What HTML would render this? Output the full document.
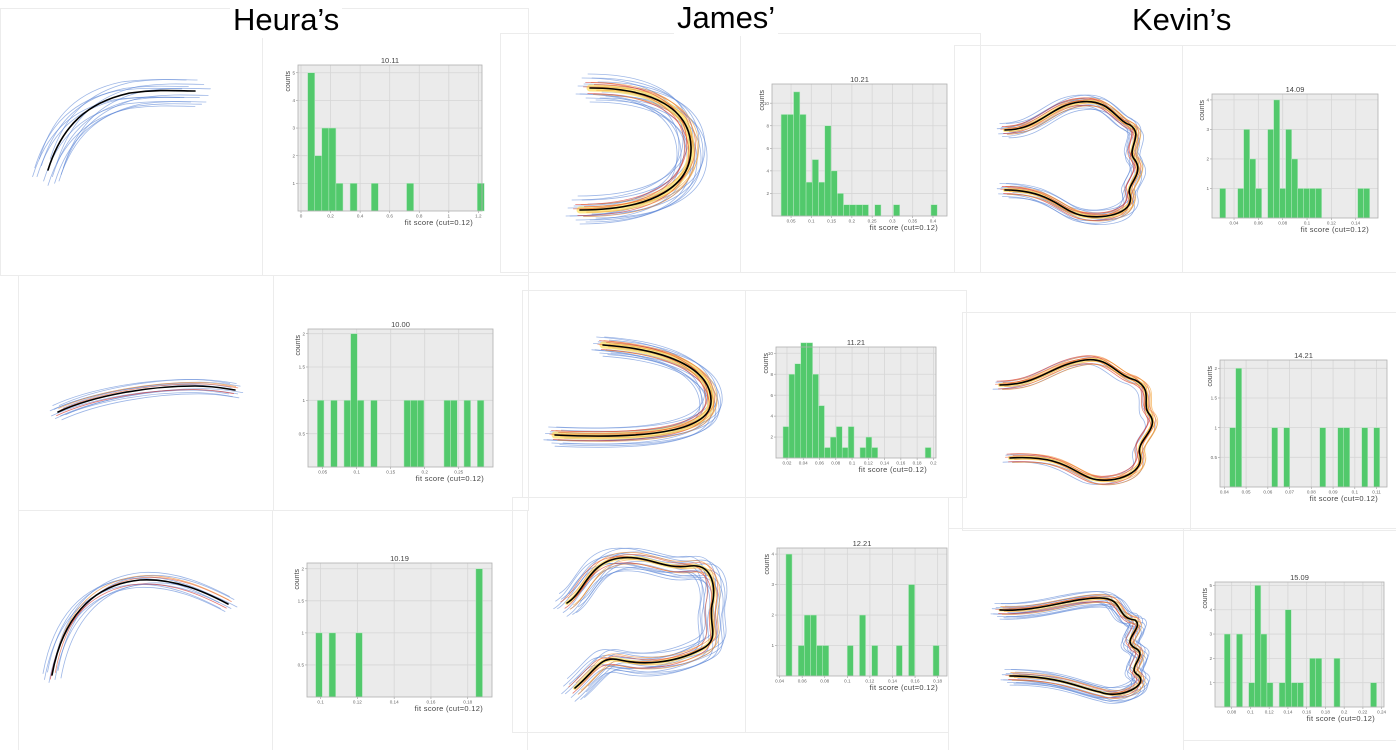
<!DOCTYPE html>
<html><head><meta charset="utf-8">
<style>
html,body{margin:0;padding:0;background:#fff;}
body{width:1396px;height:750px;overflow:hidden;position:relative;font-family:"Liberation Sans",sans-serif;}
.hdr{position:absolute;font-size:31px;color:#000;top:2px;z-index:2;background:#fff;padding:0 3px;line-height:36px;}
svg{position:absolute;left:0;top:0;z-index:1;}
</style></head>
<body>
<div class="hdr" style="left:230px">Heura’s</div>
<div class="hdr" style="left:674px;top:0px">James’</div>
<div class="hdr" style="left:1129px">Kevin’s</div>
<svg id="s" width="1396" height="750"></svg>
<script>
// ---- histogram data ----
const h1Counts=[5,2,3,3,1,0,1,0,0,1,0,0,0,0,1,0,0,0,0,0,0,0,0,0,1];
const h1XTicks=[0,0.2,0.4,0.6,0.8,1,1.2];
const h1XLabels=["0","0.2","0.4","0.6","0.8","1","1.2"];
const h1YTicks=[1,2,3,4,5];
const j1Counts=[9,9,11,9,3,5,3,8,4,2,1,1,1,1,0,1,0,0,1,0,0,0,0,0,1];
const j1XTicks=[0.05,0.1,0.15,0.2,0.25,0.3,0.35,0.4];
const j1XLabels=["0.05","0.1","0.15","0.2","0.25","0.3","0.35","0.4"];
const j1YTicks=[2,4,6,8,10];
const k1Counts=[1,0,0,1,3,2,1,0,3,4,1,3,2,1,1,1,1,0,0,0,0,0,0,1,1];
const k1XTicks=[0.04,0.06,0.08,0.1,0.12,0.14];
const k1XLabels=["0.04","0.06","0.08","0.1","0.12","0.14"];
const k1YTicks=[1,2,3,4];
const h2Counts=[1,0,1,0,1,2,1,0,1,0,0,0,0,1,1,1,0,0,0,1,1,0,1,0,1];
const h2XTicks=[0.05,0.1,0.15,0.2,0.25];
const h2XLabels=["0.05","0.1","0.15","0.2","0.25"];
const h2YTicks=[0.5,1,1.5,2];
const j2Counts=[3,8,9,11,11,8,5,1,2,3,1,3,0,1,2,1,0,0,0,0,0,0,0,0,1];
const j2XTicks=[0.02,0.04,0.06,0.08,0.1,0.12,0.14,0.16,0.18,0.2];
const j2XLabels=["0.02","0.04","0.06","0.08","0.1","0.12","0.14","0.16","0.18","0.2"];
const j2YTicks=[2,4,6,8,10];
const k2Counts=[1,2,0,0,0,0,0,1,0,1,0,0,0,0,0,1,0,0,1,1,0,0,1,0,1];
const k2XTicks=[0.04,0.05,0.06,0.07,0.08,0.09,0.1,0.11];
const k2XLabels=["0.04","0.05","0.06","0.07","0.08","0.09","0.1","0.11"];
const k2YTicks=[0.5,1,1.5,2];
const h3Counts=[1,0,1,0,0,0,1,0,0,0,0,0,0,0,0,0,0,0,0,0,0,0,0,0,2];
const h3XTicks=[0.1,0.12,0.14,0.16,0.18];
const h3XLabels=["0.1","0.12","0.14","0.16","0.18"];
const h3YTicks=[0.5,1,1.5,2];
const j3Counts=[4,0,1,2,2,1,1,0,0,0,1,0,2,0,1,0,0,0,1,0,3,0,0,0,1];
const j3XTicks=[0.04,0.06,0.08,0.1,0.12,0.14,0.16,0.18];
const j3XLabels=["0.04","0.06","0.08","0.1","0.12","0.14","0.16","0.18"];
const j3YTicks=[1,2,3,4];
const k3Counts=[3,0,3,0,1,5,3,1,0,1,4,1,1,0,2,2,0,0,2,0,0,0,0,0,1];
const k3XTicks=[0.08,0.1,0.12,0.14,0.16,0.18,0.2,0.22,0.24];
const k3XLabels=["0.08","0.1","0.12","0.14","0.16","0.18","0.2","0.22","0.24"];
const k3YTicks=[1,2,3,4,5];

const NS="http://www.w3.org/2000/svg";
const svg=document.getElementById('s');
function mk(tag,attrs,parent){const e=document.createElementNS(NS,tag);for(const k in attrs)e.setAttribute(k,attrs[k]);(parent||svg).appendChild(e);return e;}

const frames=[[0,8,262,267],[262,8,266,267],[500,33,240,239],[740,33,240,239],[954,45,228,227],[1182,45,214,227],
[18,275,255,235],[273,275,255,235],[522,290,223,207],[745,290,221,207],[962,312,228,218],[1190,312,206,218],
[18,510,254,240],[272,510,255,240],[512,497,233,235],[745,497,203,235],[948,528,235,222],[1183,528,213,212]];
frames.forEach(f=>{const r=mk('rect',{x:f[0]+0.5,y:f[1]+0.5,width:f[2],height:f[3],fill:'none',stroke:'#ececec'});

});

function hist(name,title,box,xmin,xmax,ymax,binStart,binW,counts,xt,xl,yt){
  const g=mk('g',{});
  
  
  const [x0,y0,x1,y1]=box;
  const xs=v=>x0+(v-xmin)/(xmax-xmin)*(x1-x0);
  const ys=c=>y1-c/ymax*(y1-y0);
  mk('rect',{x:x0,y:y0,width:x1-x0,height:y1-y0,fill:'#ebebeb'},g);
  xt.forEach((v,i)=>{const X=xs(v);
    mk('line',{x1:X,x2:X,y1:y0,y2:y1,stroke:'#d6d6d6','stroke-width':0.8},g);
    mk('line',{x1:X,x2:X,y1:y1,y2:y1+2,stroke:'#999','stroke-width':0.6},g);
    const t=mk('text',{x:X,y:y1+6.5,'font-size':4.6,'text-anchor':'middle',fill:'#666'},g);t.textContent=xl[i];
    
    });
  yt.forEach(v=>{const Y=ys(v);
    mk('line',{x1:x0,x2:x1,y1:Y,y2:Y,stroke:'#d6d6d6','stroke-width':0.8},g);
    mk('line',{x1:x0-2,x2:x0,y1:Y,y2:Y,stroke:'#999','stroke-width':0.6},g);
    const t=mk('text',{x:x0-3,y:Y+1.6,'font-size':4.6,'text-anchor':'end',fill:'#666'},g);t.textContent=String(v);
    
    });
  counts.forEach((c,i)=>{if(!c)return;
    const a=xs(binStart+i*binW),b=xs(binStart+(i+1)*binW);
    const r=mk('rect',{x:a,y:ys(c),width:b-a,height:y1-ys(c),fill:'#52c96c',stroke:'#b9e8c4','stroke-width':0.5},g);
    
    });
  mk('rect',{x:x0,y:y0,width:x1-x0,height:y1-y0,fill:'none',stroke:'#b0b0b0','stroke-width':0.8},g);
  const tt=mk('text',{x:(x0+x1)/2,y:y0-2,'font-size':7.5,'text-anchor':'middle',fill:'#444'},g);tt.textContent=title;
  
  
  const xlab=mk('text',{x:x1-9,y:y1+14,'font-size':7.5,'text-anchor':'end',fill:'#444','letter-spacing':0.3},g);xlab.textContent='fit score (cut=0.12)';
  
  
  const yl=mk('text',{x:0,y:0,'font-size':7,'text-anchor':'end',fill:'#444',transform:`translate(${x0-8},${y0+6}) rotate(-90)`},g);yl.textContent='counts';
  
  
}
hist('histogram-heura-1','10.11',[298,65,482,211],-0.0203,1.2246,5.28,0.0451,0.0478,h1Counts,h1XTicks,h1XLabels,h1YTicks);
hist('histogram-james-1','10.21',[772,84,947,216],0.003,0.4346,11.7,0.0254,0.0154,j1Counts,j1XTicks,j1XLabels,j1YTicks);
hist('histogram-kevin-1','14.09',[1212,94,1378,218],0.0219,0.1583,4.2,0.0282,0.00493,k1Counts,k1XTicks,k1XLabels,k1YTicks);
hist('histogram-heura-2','10.00',[308,329,493,467],0.0284,0.3004,2.07,0.0421,0.0098,h2Counts,h2XTicks,h2XLabels,h2YTicks);
hist('histogram-james-2','11.21',[776,347,936,458],0.0065,0.2032,10.6,0.0151,0.00728,j2Counts,j2XTicks,j2XLabels,j2YTicks);
hist('histogram-kevin-2','14.21',[1220,360,1387,487],0.038,0.1148,2.14,0.04245,0.00276,k2Counts,k2XTicks,k2XLabels,k2YTicks);
hist('histogram-heura-3','10.19',[307,563,492,697],0.0926,0.1932,2.09,0.0973,0.00363,h3Counts,h3XTicks,h3XLabels,h3YTicks);
hist('histogram-james-3','12.21',[777,548,947,676],0.0377,0.1883,4.2,0.0456,0.00543,j3Counts,j3XTicks,j3XLabels,j3YTicks);
hist('histogram-kevin-3','15.09',[1215,582,1384,707],0.0622,0.2425,5.14,0.0721,0.0065,k3Counts,k3XTicks,k3XLabels,k3YTicks);

// ---- trajectory bundles ----
const offs=[[-3,-2],[2,3],[-5,3],[4,-3],[1,-5],[-2,5],[6,2],[-6,-1],[3,6],[-4,-5],[7,-1],[-7,3],[0,7],[5,5],[-1,-7],[8,4]];
function bundle(name,d,nBlue,nRed,yellow,spread){
  const g=mk('g',{fill:'none','stroke-linecap':'round'});
  
  
  for(let i=0;i<nBlue;i++){const o=offs[i%offs.length];
    mk('path',{d,stroke:'#5b86d6','stroke-width':0.8,opacity:0.6,transform:`translate(${o[0]*spread},${o[1]*spread})`},g);}
  if(yellow){mk('path',{d,stroke:'#ffe066','stroke-width':yellow,opacity:0.75},g);}
  const reds=['#e8542c','#f08a2c','#d9302a','#f3a33a'];
  for(let i=0;i<nRed;i++){const o=offs[(i+3)%offs.length];
    mk('path',{d,stroke:reds[i%4],'stroke-width':0.8,opacity:0.65,transform:`translate(${o[0]*spread*0.55},${o[1]*spread*0.55})`},g);}
  mk('path',{d,stroke:'#000','stroke-width':1.6},g);
}
bundle('trajectory-heura-1','M48,170 C62,125 88,102 130,93 C160,89 180,91 195,91',14,0,0,2.2);
bundle('trajectory-heura-2','M58,412 C95,395 150,386 195,386 C215,386 228,389 235,390',10,3,0,1.3);
bundle('trajectory-heura-3','M52,675 C62,620 90,585 140,580 C175,578 205,592 228,604',8,3,0,1.5);
bundle('trajectory-james-1','M590,88 C655,88 690,110 691,147 C692,185 655,210 580,210',16,8,7,2.0);
bundle('trajectory-james-2','M603,345 C675,350 712,372 711,402 C710,428 660,440 555,435',14,8,7,1.6);
bundle('trajectory-james-3','M567,603 C585,592 588,562 620,558 C650,555 662,570 690,566 C714,563 716,590 712,605 C708,625 722,640 700,650 C672,664 642,665 620,660 C600,655 596,670 575,688',14,6,4,1.9);
bundle('trajectory-kevin-1','M1005,130 C1040,130 1050,105 1080,102 C1110,98 1115,120 1130,125 C1145,135 1125,150 1135,160 C1145,175 1125,185 1130,195 C1135,215 1100,220 1080,215 C1060,210 1050,190 1005,190',10,8,4,1.3);
bundle('trajectory-kevin-2','M1000,385 C1040,385 1050,365 1085,360 C1110,357 1115,375 1135,380 C1155,390 1140,405 1150,415 C1160,430 1135,440 1140,455 C1145,475 1110,485 1090,478 C1070,470 1060,455 1010,458',3,8,4,1.4);
bundle('trajectory-kevin-3','M1000,610 C1040,612 1070,598 1100,598 C1125,598 1115,618 1135,620 C1145,628 1120,640 1135,648 C1150,655 1125,668 1138,675 C1150,685 1120,700 1100,692 C1080,688 1060,676 1010,676',14,6,3,1.3);
</script>
</body></html>
